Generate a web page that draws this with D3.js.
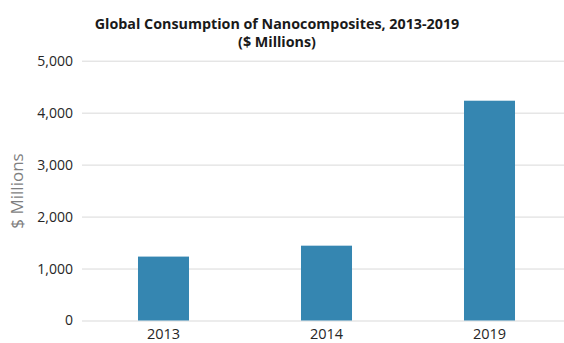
<!DOCTYPE html>
<html>
<head>
<meta charset="utf-8">
<script src="https://cdn.jsdelivr.net/npm/d3@7"></script>
<style>
  html, body { margin: 0; padding: 0; background: #fff; }
  svg { display: block; }
  text { font-family: "Open Sans", "Noto Sans", sans-serif; }
</style>
</head>
<body>
<svg id="chart" width="564" height="343"></svg>
<script>
// Global consumption of nanocomposites ($ millions)
const years = ["2013", "2014", "2019"];
const consumption = [1230, 1440, 4230];
const yTicks = [0, 1000, 2000, 3000, 4000, 5000];
const titleLines = ["Global Consumption of Nanocomposites, 2013-2019", "($ Millions)"];
const yAxisTitle = "$ Millions";

const svg = d3.select("#chart");
const plot = { left: 82, right: 571, top: 60.7, bottom: 320.5 };

const x = d3.scaleBand()
  .domain(years)
  .range([plot.left, plot.right])
  .paddingInner(0.687)
  .paddingOuter(0.3435);

const y = d3.scaleLinear()
  .domain([0, 5000])
  .range([plot.bottom, plot.top]);

// horizontal gridlines + y tick labels
const yAxis = d3.axisLeft(y)
  .tickValues(yTicks)
  .tickSize(-(plot.right - plot.left))
  .tickPadding(9)
  .tickFormat(d3.format(","));

const gy = svg.append("g")
  .attr("transform", `translate(${plot.left},0)`)
  .call(yAxis);
gy.select(".domain").remove();
gy.selectAll(".tick line").attr("stroke", "#d9d9d9").attr("stroke-width", 1);
gy.selectAll(".tick text")
  .attr("fill", "#262626")
  .attr("font-size", 14)
  .attr("font-family", "'Open Sans', sans-serif");

// bars
svg.append("g")
  .selectAll("rect")
  .data(years.map((yr, i) => ({ yr, v: consumption[i] })))
  .join("rect")
  .attr("x", d => x(d.yr))
  .attr("width", x.bandwidth())
  .attr("y", d => y(d.v))
  .attr("height", d => y(0) - y(d.v))
  .attr("fill", "#3586b1");

// category axis
const xAxis = d3.axisBottom(x).tickSize(0).tickPadding(8);
const gx = svg.append("g")
  .attr("transform", `translate(0,${plot.bottom})`)
  .call(xAxis);
gx.select(".domain").remove();
gx.selectAll(".tick text")
  .attr("fill", "#262626")
  .attr("font-size", 14.5)
  .attr("font-family", "'Open Sans', sans-serif");

// title
const cx = 277;
svg.append("text")
  .attr("x", cx).attr("y", 29)
  .attr("text-anchor", "middle")
  .attr("font-weight", "bold")
  .attr("font-size", 14.3)
  .attr("fill", "#1a1a1a")
  .text(titleLines[0]);
svg.append("text")
  .attr("x", cx).attr("y", 47)
  .attr("text-anchor", "middle")
  .attr("font-weight", "bold")
  .attr("font-size", 14.3)
  .attr("fill", "#1a1a1a")
  .text(titleLines[1]);

// y axis title
svg.append("text")
  .attr("transform", "translate(23,191) rotate(-90)")
  .attr("text-anchor", "middle")
  .attr("font-size", 17)
  .attr("fill", "#7f7f7f")
  .text(yAxisTitle);
</script>
</body>
</html>
